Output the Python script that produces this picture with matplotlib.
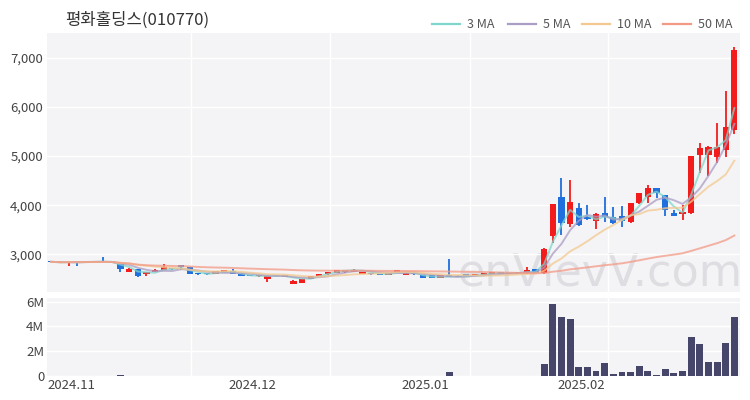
import matplotlib
matplotlib.use('Agg')
import matplotlib.pyplot as plt
from matplotlib.lines import Line2D
import numpy as np
import pandas as pd

plt.rcParams['font.family'] = ['Noto Sans CJK KR', 'DejaVu Sans']

title = "평화홀딩스(010770)"

opens = [2860, 2845, 2820, 2845, 2840, 2845, 2860, 2840, 2800, 2640,
         2690, 2590, 2640, 2675, 2705, 2775, 2730, 2610, 2610, 2595,
         2645, 2660, 2605, 2565, 2550, 2485, 2575, 2545, 2390, 2420,
         2490, 2560, 2590, 2620, 2630, 2640, 2605, 2606, 2595, 2585,
         2630, 2585, 2606, 2570, 2570, 2525, 2570, 2565, 2590, 2575,
         2585, 2600, 2630, 2600, 2605, 2610, 2700, 2610, 3370, 4160,
         3610, 3940, 3760, 3670, 3840, 3760, 3775, 3660, 4040, 4170,
         4350, 4200, 3840, 3830, 3840, 5020, 5020, 4985, 5120, 5530]
highs = [2870, 2850, 2850, 2850, 2855, 2860, 2945, 2845, 2810, 2715,
         2695, 2645, 2690, 2800, 2710, 2790, 2735, 2615, 2625, 2655,
         2660, 2690, 2610, 2570, 2570, 2555, 2580, 2565, 2470, 2505,
         2555, 2605, 2645, 2675, 2680, 2690, 2645, 2610, 2600, 2615,
         2675, 2610, 2612, 2575, 2575, 2575, 2895, 2570, 2595, 2585,
         2615, 2635, 2635, 2610, 2635, 2740, 2705, 3120, 4030, 4550,
         4510, 4040, 4000, 3840, 4170, 3970, 3980, 4050, 4250, 4410,
         4360, 4210, 3900, 4000, 5010, 5270, 5200, 5670, 6330, 7230]
lows = [2840, 2825, 2760, 2760, 2835, 2840, 2840, 2825, 2640, 2635,
        2540, 2550, 2635, 2670, 2685, 2670, 2595, 2585, 2580, 2590,
        2640, 2600, 2550, 2550, 2545, 2435, 2555, 2540, 2385, 2415,
        2485, 2555, 2585, 2615, 2625, 2635, 2600, 2570, 2575, 2580,
        2625, 2580, 2585, 2515, 2520, 2520, 2535, 2535, 2555, 2570,
        2580, 2595, 2600, 2595, 2600, 2605, 2610, 2590, 3220, 3400,
        3560, 3580, 3690, 3510, 3660, 3610, 3550, 3640, 4030, 4040,
        4140, 3775, 3770, 3690, 3830, 4650, 4590, 4860, 4980, 5450]
closes = [2845, 2830, 2840, 2835, 2850, 2855, 2845, 2830, 2690, 2705,
          2550, 2640, 2680, 2730, 2690, 2730, 2600, 2595, 2600, 2650,
          2655, 2605, 2555, 2555, 2565, 2550, 2560, 2560, 2455, 2500,
          2550, 2600, 2640, 2670, 2675, 2680, 2640, 2600, 2580, 2610,
          2670, 2606, 2590, 2520, 2525, 2570, 2540, 2540, 2560, 2580,
          2610, 2630, 2605, 2605, 2630, 2670, 2625, 3110, 4020, 3630,
          4060, 3590, 3710, 3830, 3760, 3630, 3680, 4040, 4240, 4350,
          4240, 3900, 3780, 3860, 5000, 5160, 5190, 5190, 5590, 7160]
volumes = [25e3, 15e3, 20e3, 12e3, 12e3, 10e3, 25e3, 12e3, 45e3, 35e3,
           40e3, 28e3, 24e3, 30e3, 15e3, 20e3, 28e3, 15e3, 14e3, 15e3,
           12e3, 18e3, 20e3, 14e3, 12e3, 24e3, 12e3, 12e3, 30e3, 24e3,
           20e3, 15e3, 18e3, 15e3, 14e3, 14e3, 15e3, 15e3, 12e3, 14e3,
           18e3, 14e3, 12e3, 24e3, 20e3, 15e3, 330e3, 28e3, 20e3, 12e3,
           14e3, 15e3, 12e3, 12e3, 24e3, 40e3, 30e3, 1.0e6, 5.85e6, 4.75e6,
           4.6e6, 0.75e6, 0.7e6, 0.4e6, 1.05e6, 0.15e6, 0.35e6, 0.35e6, 0.8e6, 0.4e6,
           0.12e6, 0.6e6, 0.25e6, 0.4e6, 3.15e6, 2.6e6, 1.15e6, 1.15e6, 2.65e6, 4.75e6]

month_labels = ["2024.11", "2024.12", "2025.01", "2025.02"]
month_start_idx = [0, 21, 41, 59]

ma_windows = [3, 5, 10, 50]
ma_labels = ["3 MA", "5 MA", "10 MA", "50 MA"]
ma_colors = ["#7fd6cc", "#ab9dc4", "#f3c98f", "#f39a86"]

price_ticks = [3000, 4000, 5000, 6000, 7000]
vol_ticks = [0, 2e6, 4e6, 6e6]
vol_tick_labels = ["0", "2M", "4M", "6M"]

UP = "#f21c1c"
DOWN = "#1f6fdc"
BG = "#f4f4f6"
TXT = "#444444"

n = len(closes)
x = np.arange(n)
df = pd.DataFrame({"o": opens, "h": highs, "l": lows, "c": closes, "v": volumes})

fig = plt.figure(figsize=(7.5, 4.0), dpi=100)
W, H = 750, 400
ax = fig.add_axes([47 / W, (H - 292) / H, 693 / W, 259 / H])
axv = fig.add_axes([47 / W, (H - 376) / H, 693 / W, 78 / H], sharex=ax)

for a in (ax, axv):
    a.set_facecolor(BG)
    for s in a.spines.values():
        s.set_visible(False)
    a.tick_params(length=0, colors=TXT, labelsize=9.5)
    a.set_axisbelow(True)

# grid
for a in (ax, axv):
    a.grid(axis='y', color='white', linewidth=1.0)
vgrid = [16.2, 32.2, 48.4, 64.4]
for g in vgrid:
    ax.axvline(g, color='white', linewidth=1.0, zorder=0.3)
    axv.axvline(g, color='white', linewidth=1.0, zorder=0.3)

# watermark
ax.text(0.593, 0.025, "enVievV.com", transform=ax.transAxes, fontsize=32,
        family='DejaVu Sans', color='#dedee2', ha='left', va='baseline', zorder=0.5)

# candles
colors = [UP if c >= o else DOWN for o, c in zip(df.o, df.c)]
ax.vlines(x, df.l, df.h, colors=colors, linewidth=1.3, zorder=2)
body_bottom = np.minimum(df.o, df.c)
body_h = np.maximum(np.abs(df.c - df.o), 25)
ax.bar(x, body_h, bottom=body_bottom, width=0.72, color=colors, zorder=2.1, linewidth=0)

# moving averages
for w, col in zip(ma_windows, ma_colors):
    ma = df.c.rolling(w, min_periods=1).mean()
    ax.plot(x, ma, color=col, linewidth=1.4, alpha=0.75, zorder=3)

ax.set_xlim(-0.35, n - 0.35)
ax.set_ylim(2230, 7510)
ax.set_yticks(price_ticks)
ax.set_yticklabels([f"{t:,}" for t in price_ticks])
ax.tick_params(axis='y', pad=3)
plt.setp(ax.get_xticklabels(), visible=False)

# volume
axv.bar(x, df.v, width=0.8, color="#454669", zorder=2, linewidth=0)
axv.set_ylim(0, 6.3e6)
axv.set_yticks(vol_ticks)
axv.set_yticklabels(vol_tick_labels)
axv.tick_params(axis='y', pad=2)
axv.set_xticks([i - 0.5 for i in month_start_idx])
axv.set_xticklabels(month_labels, ha='left')
axv.tick_params(axis='x', pad=2)

# title
fig.text(65 / W, 1 - 20 / H, title, fontsize=12, color='#333333', ha='left', va='center')

# legend
leg_x = [432, 508, 582, 663]
for lx, lab, col in zip(leg_x, ma_labels, ma_colors):
    fig.add_artist(Line2D([lx / W, (lx + 28) / W], [1 - 24 / H, 1 - 24 / H],
                          color=col, linewidth=1.6, transform=fig.transFigure))
    fig.text((lx + 35) / W, 1 - 24 / H, lab, fontsize=9, color='#555555',
             ha='left', va='center')

fig.savefig("out.png", dpi=100, facecolor='white')
